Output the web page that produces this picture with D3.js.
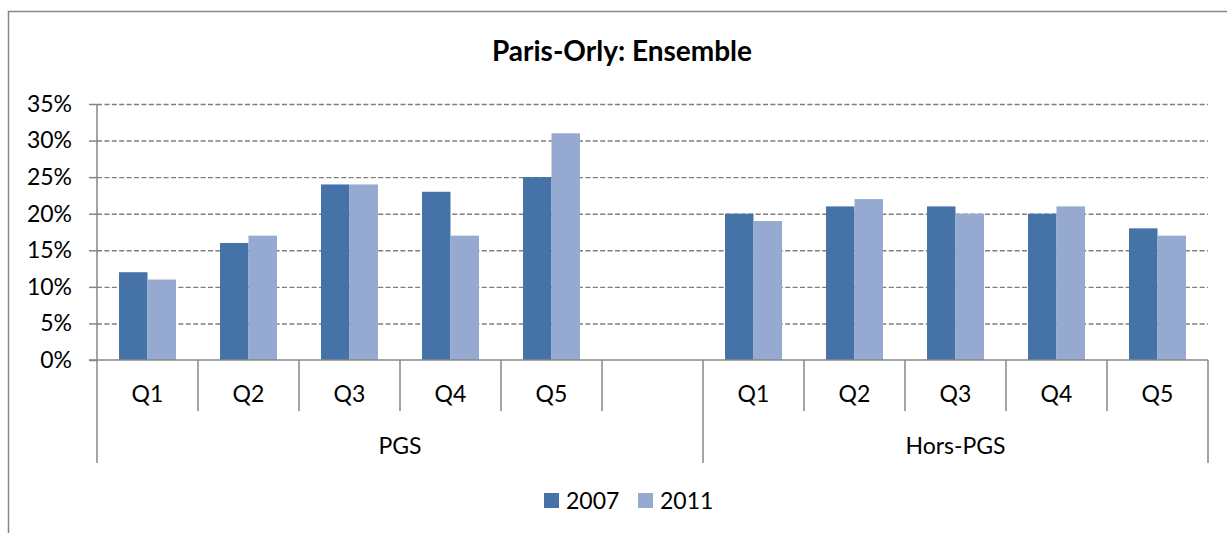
<!DOCTYPE html>
<html>
<head>
<meta charset="utf-8">
<script src="https://cdn.jsdelivr.net/npm/d3@7"></script>
<style>
  html, body { margin: 0; padding: 0; background: #fff; }
  svg { display: block; font-family: Lato, "Open Sans", sans-serif; }
</style>
</head>
<body>
<svg id="chart" width="1227" height="533"></svg>
<script>
// ---- data ----
const title = "Paris-Orly: Ensemble";
const categories = ["Q1", "Q2", "Q3", "Q4", "Q5", "", "Q1", "Q2", "Q3", "Q4", "Q5"];
const groupLabels = ["PGS", "Hors-PGS"];
const groupSizes = [6, 5];
const seriesNames = ["2007", "2011"];
const values2007 = [0.12, 0.16, 0.24, 0.23, 0.25, null, 0.20, 0.21, 0.21, 0.20, 0.18];
const values2011 = [0.11, 0.17, 0.24, 0.17, 0.31, null, 0.19, 0.22, 0.20, 0.21, 0.17];
const yTicks = [0, 0.05, 0.10, 0.15, 0.20, 0.25, 0.30, 0.35];

// ---- layout ----
const colors = ["#4573A7", "#95A9D1"];
const gridColor = "#868686";
const plotL = 97, plotR = 1208, plotT = 104, plotB = 360;
const labelSize = 23;

const svg = d3.select("#chart");

// outer frame
svg.append("rect")
  .attr("x", 8.5).attr("y", 11.5).attr("width", 1400).attr("height", 700)
  .attr("fill", "none").attr("stroke", gridColor).attr("stroke-width", 1.5);

// title
svg.append("text")
  .attr("x", 622).attr("y", 61)
  .attr("text-anchor", "middle")
  .attr("font-size", 28).attr("font-weight", "bold")
  .text(title);

const y = d3.scaleLinear().domain([0, 0.35]).range([plotB, plotT]);
const x0 = d3.scaleBand().domain(d3.range(categories.length)).range([plotL, plotR]).padding(0);
const inset = x0.bandwidth() * 0.218;
const x1 = d3.scaleBand().domain(seriesNames).range([inset, x0.bandwidth() - inset]).padding(0);

// gridlines
const grid = svg.append("g").attr("transform", `translate(${plotL},0)`)
  .call(d3.axisLeft(y).tickValues(yTicks.filter(t => t > 0)).tickSize(-(plotR - plotL)).tickFormat(""));
grid.select(".domain").remove();
grid.selectAll("line")
  .attr("stroke", "#7f7f7f").attr("stroke-width", 1.4).attr("stroke-dasharray", "5,2.4");

// y axis
const yAxis = svg.append("g").attr("transform", `translate(${plotL},0)`)
  .call(d3.axisLeft(y).tickValues(yTicks).tickSize(8).tickPadding(17).tickFormat(d3.format(".0%")));
yAxis.select(".domain").attr("stroke", gridColor).attr("stroke-width", 1.5).attr("d", `M0,${plotT}V${plotB}`);
yAxis.selectAll(".tick line").attr("stroke", gridColor).attr("stroke-width", 1.5);
yAxis.selectAll(".tick text").attr("font-size", labelSize).attr("font-family", "Lato, sans-serif").attr("fill", "#000");

// bars
const data = categories.map((c, i) => ({ i, vals: [values2007[i], values2011[i]] }));
const cat = svg.append("g").selectAll("g").data(data).join("g")
  .attr("transform", d => `translate(${x0(d.i)},0)`);
cat.selectAll("rect")
  .data(d => d.vals.map((v, k) => ({ k, v })).filter(e => e.v !== null))
  .join("rect")
  .attr("x", e => x1(seriesNames[e.k]))
  .attr("width", x1.bandwidth())
  .attr("y", e => y(e.v))
  .attr("height", e => y(0) - y(e.v))
  .attr("fill", e => colors[e.k]);

// x axis line
const xg = svg.append("g");
xg.append("line")
  .attr("x1", plotL - 8).attr("x2", plotR).attr("y1", plotB).attr("y2", plotB)
  .attr("stroke", gridColor).attr("stroke-width", 1.5);

// category separators
const bounds = d3.range(categories.length + 1).map(i => i < categories.length ? x0(i) : x0(categories.length - 1) + x0.bandwidth());
xg.selectAll(".sep").data(bounds).join("line")
  .attr("x1", d => d).attr("x2", d => d)
  .attr("y1", plotB).attr("y2", 411)
  .attr("stroke", gridColor).attr("stroke-width", 1.5);

// category labels
xg.selectAll(".cat").data(categories).join("text")
  .attr("x", (d, i) => x0(i) + x0.bandwidth() / 2)
  .attr("y", 402)
  .attr("text-anchor", "middle").attr("font-size", labelSize)
  .text(d => d);

// group separators & labels
let startIdx = 0;
const groupInfo = groupLabels.map((g, gi) => {
  const s = startIdx; startIdx += groupSizes[gi];
  const e = startIdx - 1;
  return { g, xa: x0(s), xb: x0(e) + x0.bandwidth() };
});
const groupBounds = [groupInfo[0].xa].concat(groupInfo.map(d => d.xb));
xg.selectAll(".gsep").data(groupBounds).join("line")
  .attr("x1", d => d).attr("x2", d => d)
  .attr("y1", 411).attr("y2", 463)
  .attr("stroke", gridColor).attr("stroke-width", 1.5);
xg.selectAll(".glab").data(groupInfo).join("text")
  .attr("x", d => (d.xa + d.xb) / 2)
  .attr("y", 454)
  .attr("text-anchor", "middle").attr("font-size", labelSize)
  .text(d => d.g);

// legend
const legendX = [544, 638];
const lg = svg.append("g").selectAll("g").data(seriesNames).join("g")
  .attr("transform", (d, i) => `translate(${legendX[i]},493)`);
lg.append("rect").attr("width", 15).attr("height", 15).attr("fill", (d, i) => colors[i]);
lg.append("text").attr("x", 22).attr("y", 16).attr("font-size", labelSize).text(d => d);
</script>
</body>
</html>
